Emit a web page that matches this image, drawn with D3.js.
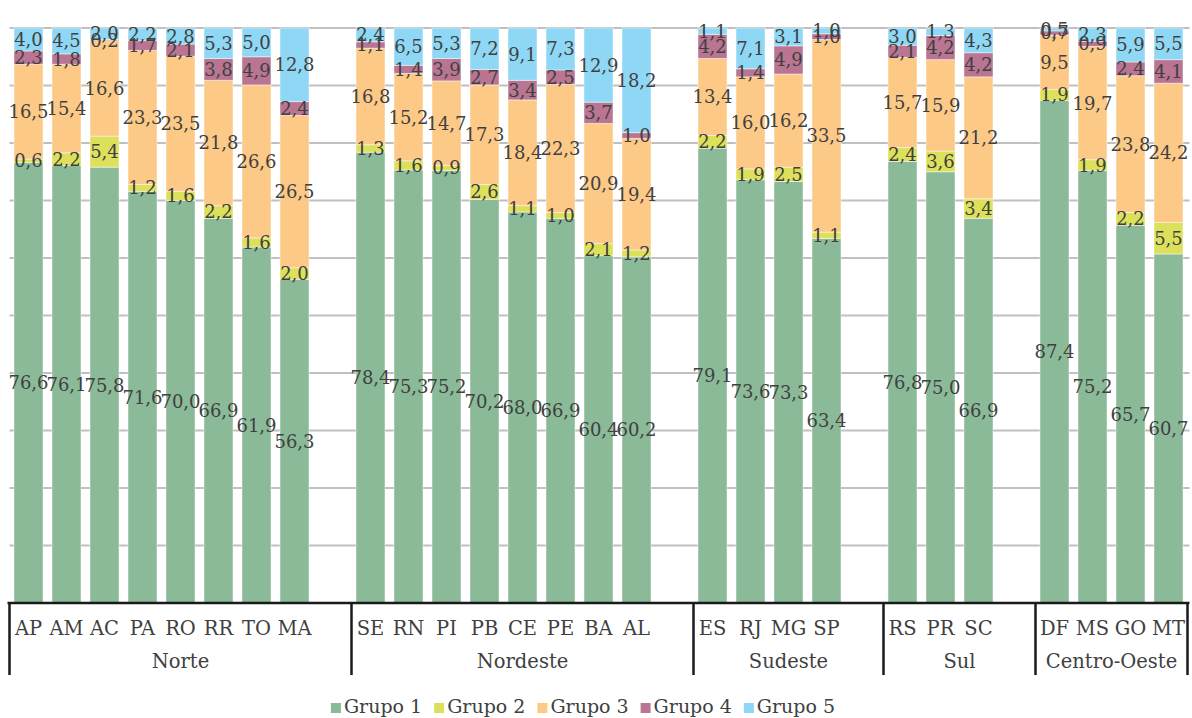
<!DOCTYPE html>
<html>
<head>
<meta charset="utf-8">
<script src="https://cdn.jsdelivr.net/npm/d3@7"></script>
<style>
  html, body { margin: 0; padding: 0; background: #fff; }
  svg { display: block; }
  text { font-family: "DejaVu Serif", serif; fill: #404040; }
</style>
</head>
<body>
<svg id="chart" width="1192" height="718"></svg>
<script>
// Regions and their states, in display order
const regions = ["Norte", "Nordeste", "Sudeste", "Sul", "Centro-Oeste"];
const statesByRegion = [
  ["AP", "AM", "AC", "PA", "RO", "RR", "TO", "MA"],
  ["SE", "RN", "PI", "PB", "CE", "PE", "BA", "AL"],
  ["ES", "RJ", "MG", "SP"],
  ["RS", "PR", "SC"],
  ["DF", "MS", "GO", "MT"]
];
const seriesNames = ["Grupo 1", "Grupo 2", "Grupo 3", "Grupo 4", "Grupo 5"];
const seriesColors = ["#8aba98", "#dde05a", "#fdc986", "#b97592", "#8fd8f5"];

// Percent share of each group per state (same order as statesByRegion, flattened)
const grupo1 = [76.6, 76.1, 75.8, 71.6, 70.0, 66.9, 61.9, 56.3,
                78.4, 75.3, 75.2, 70.2, 68.0, 66.9, 60.4, 60.2,
                79.1, 73.6, 73.3, 63.4,
                76.8, 75.0, 66.9,
                87.4, 75.2, 65.7, 60.7];
const grupo2 = [0.6, 2.2, 5.4, 1.2, 1.6, 2.2, 1.6, 2.0,
                1.3, 1.6, 0.9, 2.6, 1.1, 1.0, 2.1, 1.2,
                2.2, 1.9, 2.5, 1.1,
                2.4, 3.6, 3.4,
                1.9, 1.9, 2.2, 5.5];
const grupo3 = [16.5, 15.4, 16.6, 23.3, 23.5, 21.8, 26.6, 26.5,
                16.8, 15.2, 14.7, 17.3, 18.4, 22.3, 20.9, 19.4,
                13.4, 16.0, 16.2, 33.5,
                15.7, 15.9, 21.2,
                9.5, 19.7, 23.8, 24.2];
const grupo4 = [2.3, 1.8, 0.2, 1.7, 2.1, 3.8, 4.9, 2.4,
                1.1, 1.4, 3.9, 2.7, 3.4, 2.5, 3.7, 1.0,
                4.2, 1.4, 4.9, 1.0,
                2.1, 4.2, 4.2,
                0.7, 0.9, 2.4, 4.1];
const grupo5 = [4.0, 4.5, 2.0, 2.2, 2.8, 5.3, 5.0, 12.8,
                2.4, 6.5, 5.3, 7.2, 9.1, 7.3, 12.9, 18.2,
                1.1, 7.1, 3.1, 1.0,
                3.0, 1.3, 4.3,
                0.5, 2.3, 5.9, 5.5];
const yTicks = [10, 20, 30, 40, 50, 60, 70, 80, 90, 100];

const seriesValues = [grupo1, grupo2, grupo3, grupo4, grupo5];
const keys = ["g1", "g2", "g3", "g4", "g5"];

// Build rows; an empty slot follows each region (except the last)
const rows = [];
const slots = [];
let idx = 0;
regions.forEach((reg, r) => {
  statesByRegion[r].forEach(st => {
    const row = { state: st, region: reg };
    keys.forEach((k, s) => row[k] = seriesValues[s][idx]);
    rows.push(row);
    slots.push(st);
    idx++;
  });
  if (r < regions.length - 1) slots.push("gap" + r);
});

const svg = d3.select("#chart");
const plotLeft = 9.5, plotRight = 1187.5, plotTop = 28, plotBottom = 603;

const x = d3.scaleBand().domain(slots).range([plotLeft, plotRight])
  .paddingInner(0.237).paddingOuter(0.1185);
const y = d3.scaleLinear().domain([0, 100]).range([plotBottom, plotTop]);

// Gridlines
svg.append("g").selectAll("line").data(yTicks).join("line")
  .attr("x1", plotLeft).attr("x2", plotRight + 2)
  .attr("y1", d => y(d)).attr("y2", d => y(d))
  .attr("stroke", "#c0c0c0").attr("stroke-width", 2);

// Stacked bars
const stacked = d3.stack().keys(keys)(rows);
const layers = svg.append("g").selectAll("g").data(stacked).join("g")
  .attr("fill", (d, i) => seriesColors[i]);
layers.selectAll("rect").data(d => d).join("rect")
  .attr("x", d => x(d.data.state))
  .attr("width", x.bandwidth())
  .attr("y", d => y(d[1]))
  .attr("height", d => y(d[0]) - y(d[1]))
  .attr("stroke", "rgba(255,255,255,0.45)")
  .attr("stroke-width", 1);

// Value labels, centred in each segment
const fmt = v => d3.format(".1f")(v).replace(".", ",");
const labels = svg.append("g").attr("font-size", 18).attr("text-anchor", "middle");
stacked.forEach(layer => {
  labels.selectAll(null).data(layer).join("text")
    .attr("x", d => x(d.data.state) + x.bandwidth() / 2)
    .attr("y", d => y((d[0] + d[1]) / 2))
    .attr("dy", "0.36em")
    .text(d => fmt(d[1] - d[0]));
});

// Category axis: baseline, state labels, region brackets
const axis = svg.append("g");
axis.append("line")
  .attr("x1", plotLeft - 2).attr("x2", plotRight + 2)
  .attr("y1", plotBottom).attr("y2", plotBottom)
  .attr("stroke", "#1a1a1a").attr("stroke-width", 2.5);

axis.append("g").attr("font-size", 19.5).attr("text-anchor", "middle")
  .selectAll("text").data(rows).join("text")
  .attr("x", d => x(d.state) + x.bandwidth() / 2)
  .attr("y", 635)
  .text(d => d.state);

// Region spans: from the left edge of the first state's slot to the end of the trailing gap slot
const step = x.step();
const regionSpans = regions.map((reg, r) => {
  const first = statesByRegion[r][0];
  const last = r < regions.length - 1 ? "gap" + r : statesByRegion[r][statesByRegion[r].length - 1];
  const x0 = x(first) - x.paddingInner() * step / 2;
  const x1 = x(last) + x.bandwidth() + x.paddingInner() * step / 2;
  return { reg, x0, x1 };
});
const bounds = [regionSpans[0].x0].concat(regionSpans.map(s => s.x1));
axis.append("g").selectAll("line").data(bounds).join("line")
  .attr("x1", d => d).attr("x2", d => d)
  .attr("y1", plotBottom).attr("y2", 675)
  .attr("stroke", "#1a1a1a").attr("stroke-width", 2.5);
axis.append("g").attr("font-size", 19.5).attr("text-anchor", "middle")
  .selectAll("text").data(regionSpans).join("text")
  .attr("x", d => (d.x0 + d.x1) / 2)
  .attr("y", 668)
  .text(d => d.reg);

// Legend
const legend = svg.append("g").attr("font-size", 19);
const items = legend.selectAll("g").data(seriesNames).join("g");
items.append("rect").attr("width", 10).attr("height", 10)
  .attr("y", 703).attr("fill", (d, i) => seriesColors[i]);
items.append("text").attr("x", 13).attr("y", 713).text(d => d);
let cursor = 0;
const offsets = [];
items.each(function () {
  const w = 13 + d3.select(this).select("text").node().getComputedTextLength();
  offsets.push(cursor);
  cursor += w + 12;
});
const totalW = cursor - 12;
const startX = 583 - totalW / 2;
items.attr("transform", (d, i) => `translate(${startX + offsets[i]},0)`);
</script>
</body>
</html>
